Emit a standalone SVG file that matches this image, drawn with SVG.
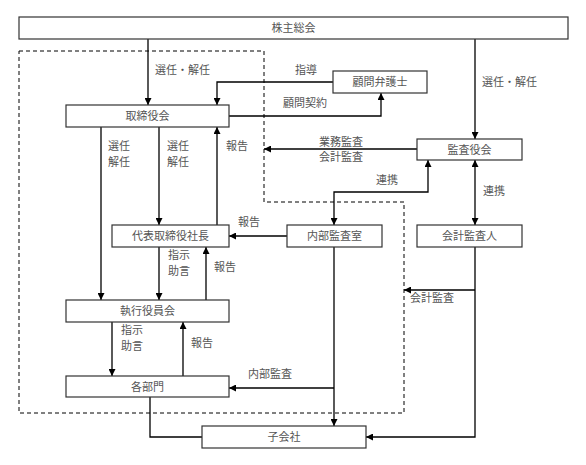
<svg xmlns="http://www.w3.org/2000/svg" width="586" height="465" viewBox="0 0 586 465">
<defs>
<marker id="ah" viewBox="0 0 10 10" refX="10" refY="5" markerWidth="7" markerHeight="7" markerUnits="userSpaceOnUse" orient="auto-start-reverse">
<path d="M0,0 L10,5 L0,10 z" fill="#000"/>
</marker>
<style>
rect.n{fill:#fff;stroke:#333;stroke-width:1.2}
text{font-family:"Noto Sans CJK JP","Noto Sans CJK SC",sans-serif;font-size:11px;fill:#555}
text.c{text-anchor:middle}
.l{fill:none;stroke:#000;stroke-width:1.3}
.a{marker-end:url(#ah)}
.d{fill:none;stroke:#000;stroke-width:1;stroke-dasharray:4,3}
</style>
</defs>
<rect width="586" height="465" fill="#fff"/>
<path class="d" d="M19,51 H264 V202 H404 V413 H19 Z"/>
<g id="connectors">
<path class="l a" d="M148,39 V105"/>
<path class="l a" d="M475,39 V139"/>
<path class="l a" d="M333,82 H217 V105"/>
<path class="l a" d="M229,116 H381 V93"/>
<path class="l a" d="M417,149 H264"/>
<path class="l a" d="M217,225 V127"/>
<path class="l a" d="M101,127 V300"/>
<path class="l a" d="M159,127 V225"/>
<path class="l a" d="M475,160 V225" style="marker-start:url(#ah)"/>
<path class="l a" d="M428,160 V192 H334 V225" style="marker-start:url(#ah)"/>
<path class="l a" d="M287,236 H229"/>
<path class="l a" d="M159,247 V300"/>
<path class="l a" d="M206,300 V247"/>
<path class="l a" d="M112,322 V376"/>
<path class="l a" d="M183,376 V322"/>
<path class="l a" d="M334,247 V426"/>
<path class="l a" d="M334,388 H229"/>
<path class="l" d="M150,397 V437 H202"/>
<path class="l a" d="M475,247 V437 H366"/>
<path class="l a" d="M475,290 H404"/>
<text x="155" y="74">選任・解任</text>
<text x="482" y="86">選任・解任</text>
<text x="295" y="74">指導</text>
<text x="283" y="107">顧問契約</text>
<text x="319" y="146">業務監査</text>
<text x="319" y="161">会計監査</text>
<text x="226" y="150">報告</text>
<text x="108" y="150">選任</text>
<text x="108" y="166">解任</text>
<text x="167" y="150">選任</text>
<text x="167" y="166">解任</text>
<text x="376" y="184">連携</text>
<text x="483" y="195">連携</text>
<text x="238" y="226">報告</text>
<text x="168" y="259">指示</text>
<text x="168" y="275">助言</text>
<text x="214" y="271">報告</text>
<text x="410" y="302">会計監査</text>
<text x="121" y="334">指示</text>
<text x="121" y="350">助言</text>
<text x="191" y="347">報告</text>
<text x="248" y="378">内部監査</text>
</g>
<g id="kabunushi"><rect class="n" x="19" y="17" width="549" height="22"/><text class="c" x="293.5" y="32">株主総会</text></g>
<g id="torishimariyakukai"><rect class="n" x="66" y="105" width="163" height="22"/><text class="c" x="147.5" y="120">取締役会</text></g>
<g id="komon"><rect class="n" x="333" y="71" width="94" height="22"/><text class="c" x="380" y="86">顧問弁護士</text></g>
<g id="kansayakukai"><rect class="n" x="417" y="139" width="105" height="21"/><text class="c" x="469.5" y="154">監査役会</text></g>
<g id="shacho"><rect class="n" x="112" y="225" width="117" height="22"/><text class="c" x="170.5" y="240">代表取締役社長</text></g>
<g id="naibukansa"><rect class="n" x="287" y="225" width="95" height="22"/><text class="c" x="334.5" y="240">内部監査室</text></g>
<g id="kaikeikansanin"><rect class="n" x="417" y="225" width="105" height="22"/><text class="c" x="469.5" y="240">会計監査人</text></g>
<g id="shikkou"><rect class="n" x="66" y="300" width="163" height="22"/><text class="c" x="147.5" y="315">執行役員会</text></g>
<g id="kakubumon"><rect class="n" x="66" y="376" width="163" height="21"/><text class="c" x="147.5" y="391">各部門</text></g>
<g id="kogaisha"><rect class="n" x="202" y="426" width="164" height="22"/><text class="c" x="284" y="441">子会社</text></g>
</svg>
